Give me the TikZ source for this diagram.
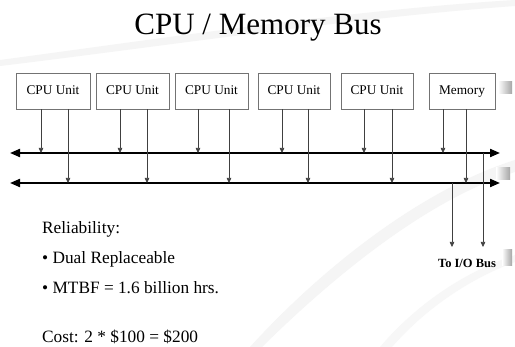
\documentclass[tikz,border=0pt]{standalone}
\usepackage{fontspec}
\setmainfont{Liberation Serif}
\usetikzlibrary{arrows.meta}
\begin{document}
\begin{tikzpicture}[x=1pt,y=-1pt,
  unitbox/.style={draw=black!55,line width=0.6pt,fill=white,minimum width=74pt,minimum height=36pt,inner sep=0pt,text height=9.5pt,text depth=3pt,font=\fontsize{13.3}{15}\selectfont},
  drop/.style={draw=black!75,line width=0.6pt,-{Triangle[length=5pt,width=4.5pt]}},
  bus/.style={line width=2pt,{Triangle[length=10pt,width=8pt]}-{Triangle[length=10pt,width=8pt]}},
  body/.style={anchor=base west,inner sep=0pt,font=\fontsize{17.3}{20}\selectfont}]
\useasboundingbox (0,0) rectangle (515,347);
\fill[white] (0,0) rectangle (515,347);
% faint background swooshes
\fill[black!4] (0,60) .. controls (150,40) and (350,10) .. (515,0) -- (515,6) .. controls (350,18) and (150,48) .. (0,66) -- cycle;
\fill[black!4] (250,347) .. controls (320,270) and (420,190) .. (515,160) -- (515,172) .. controls (425,200) and (330,280) .. (262,347) -- cycle;
\fill[black!3] (380,347) .. controls (420,300) and (470,270) .. (515,255) -- (515,262) .. controls (472,278) and (428,306) .. (392,347) -- cycle;
\shade[left color=white,right color=black!35] (498,82) rectangle (512,94);
\shade[left color=white,right color=black!35] (496,168) rectangle (510,180);
\shade[left color=white,right color=black!35] (502,250) rectangle (512,266);
% title
\node[anchor=base,inner sep=0pt,font=\fontsize{31}{36}\selectfont] (title) at (258,35) {CPU / Memory Bus};
% units
\node[unitbox] (b1) at (53,91) {CPU Unit};
\node[unitbox,minimum width=73pt] (b2) at (132.5,91) {CPU Unit};
\node[unitbox,minimum width=73pt] (b3) at (211.5,91) {CPU Unit};
\node[unitbox,minimum width=72pt] (b4) at (294,91) {CPU Unit};
\node[unitbox,minimum width=72pt] (b5) at (377,91) {CPU Unit};
\node[unitbox,minimum width=66pt] (mem) at (462,91) {Memory};
% buses
\coordinate (TL) at (10,153);
\coordinate (TR) at (500,153);
\coordinate (BL) at (10,183);
\coordinate (BR) at (500,183);
\draw[bus] (TL) -- (TR);
\draw[bus] (BL) -- (BR);
% drops
\foreach \b/\xl/\xr in {b1/41/68, b2/120/147, b3/198/229, b4/282/308, b5/364/392, mem/443/466}{
  \coordinate (t\b) at (\xl,153);
  \coordinate (u\b) at (\xr,183);
  \draw[drop] (\b.south -| t\b) -- (t\b);
  \draw[drop] (\b.south -| u\b) -- (u\b);
}
% to I/O bus
\coordinate (io1s) at (452,183);
\coordinate (io2s) at (483,153);
\coordinate (io1) at (452,247);
\coordinate (io2) at (483,247);
\draw[drop] (io1s) -- (io1);
\draw[drop] (io2s) -- (io2);
\node[anchor=base,inner sep=0pt,font=\bfseries\fontsize{12.5}{14}\selectfont] (iolabel) at (467,268) {To I/O Bus};
% text
\node[body] (rel) at (42,234) {Reliability:};
\node[body] (dual) at (42,264) {\textbullet\ Dual Replaceable};
\node[body] (mtbf) at (42,294) {\textbullet\ MTBF = 1.6 billion hrs.};
\node[body] (cost) at (42,343) {Cost: 2 * \$100 = \$200};
\end{tikzpicture}
\end{document}
